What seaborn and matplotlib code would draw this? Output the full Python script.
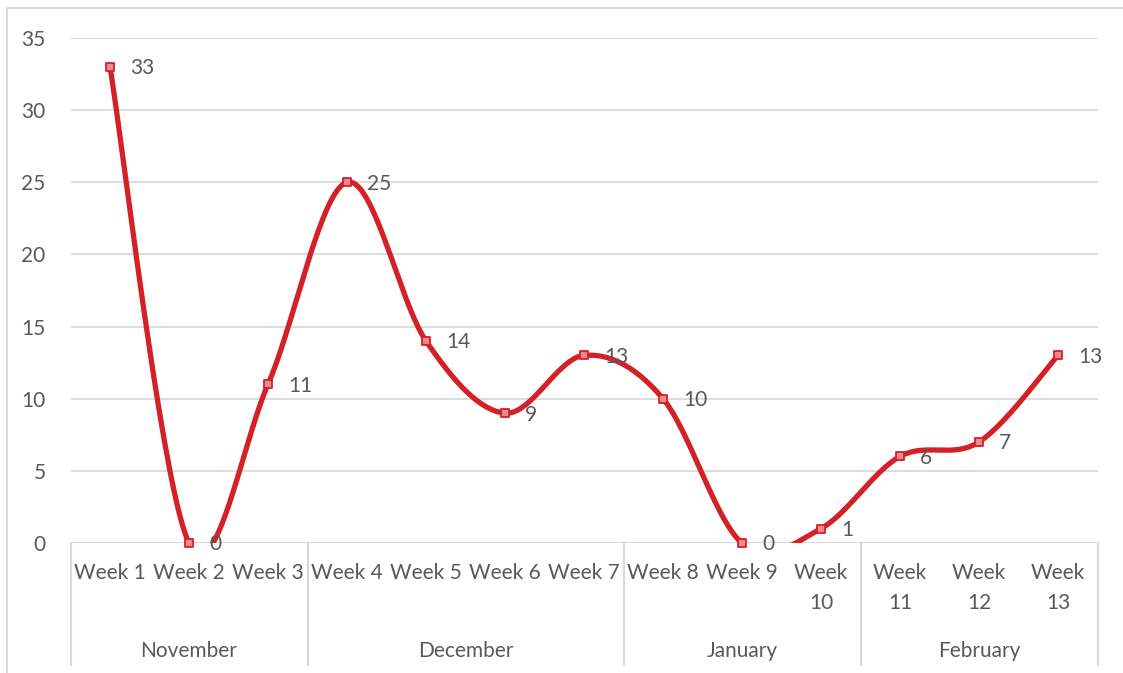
import matplotlib
matplotlib.use("Agg")
import matplotlib.pyplot as plt
import matplotlib.transforms as mtransforms
import seaborn as sns
import numpy as np
import pandas as pd

# === Data ===
weeks = ["Week 1", "Week 2", "Week 3", "Week 4", "Week 5", "Week 6", "Week 7",
         "Week 8", "Week 9", "Week\n10", "Week\n11", "Week\n12", "Week\n13"]
counts = [33, 0, 11, 25, 14, 9, 13, 10, 0, 1, 6, 7, 13]
months = ["November", "December", "January", "February"]
month_sizes = [3, 4, 3, 3]

# === Style ===
W, H = 1123, 673
RED = "#D42027"
TXT = "#595959"
GRID = "#D9D9D9"
FS = 15

sns.set_theme(style="white")
plt.rcParams["font.family"] = ["Lato", "DejaVu Sans"]

fig = plt.figure(figsize=(W / 100, H / 100), dpi=100)
left, right, top, bottom = 70.5, 1097.5, 38, 543
ax = fig.add_axes([left / W, 1 - bottom / H, (right - left) / W, (bottom - top) / H])


def fy(p):
    return 1 - p / H


# === Excel-like smoothed line (Catmull-Rom -> Bezier) ===
x = np.arange(len(counts), dtype=float)
y = np.array(counts, dtype=float)
pts = np.column_stack([x, y])
ext = np.vstack([pts[0], pts, pts[-1]])
t = np.linspace(0, 1, 40)
curve = []
for i in range(len(pts) - 1):
    p0, p1, p2, p3 = ext[i], ext[i + 1], ext[i + 2], ext[i + 3]
    c1 = p1 + (p2 - p0) / 6
    c2 = p2 - (p3 - p1) / 6
    seg = ((1 - t) ** 3)[:, None] * p1 + (3 * (1 - t) ** 2 * t)[:, None] * c1 \
        + (3 * (1 - t) * t ** 2)[:, None] * c2 + (t ** 3)[:, None] * p2
    curve.append(seg if i == 0 else seg[1:])
curve = np.vstack(curve)
smooth = pd.DataFrame({"x": curve[:, 0], "y": curve[:, 1]})

# gridlines
for v in range(5, 36, 5):
    ax.axhline(v, color=GRID, lw=1.3, zorder=0)
ax.axhline(0, color=GRID, lw=1.5, zorder=0)

sns.lineplot(data=smooth, x="x", y="y", sort=False, color=RED, lw=3.8,
             ax=ax, zorder=3)
pts_df = pd.DataFrame({"x": x, "y": y})
sns.scatterplot(data=pts_df, x="x", y="y", marker="s", s=36, color="#EE8A8E",
                edgecolor=RED, linewidth=1.3, ax=ax, zorder=4, clip_on=False)

for xi, yi in zip(x, counts):
    ax.annotate(str(yi), (xi, yi), xytext=(14.5, -1), textcoords="offset points",
                ha="left", va="center", fontsize=FS, color=TXT, zorder=5,
                annotation_clip=False)

ax.set_xlim(-0.5, len(counts) - 0.5)
ax.set_ylim(0, 35)
ax.set_yticks(range(0, 36, 5))
ax.set_yticklabels([str(v) for v in range(0, 36, 5)], fontsize=FS, color=TXT)
ax.tick_params(axis="y", length=0, pad=18)
ax.set_xticks([])
ax.set_xlabel("")
ax.set_ylabel("")
for s in ax.spines.values():
    s.set_visible(False)

# === Multi-level category axis ===
tr = mtransforms.blended_transform_factory(ax.transData, fig.transFigure)
for xi, lab in zip(x, weeks):
    ax.text(xi, fy(563), lab, transform=tr, ha="center", va="top",
            fontsize=FS, color=TXT, linespacing=1.65)
bounds = np.concatenate([[0], np.cumsum(month_sizes)]) - 0.5
for b in bounds:
    ax.plot([b, b], [fy(543), fy(665)], transform=tr, color=GRID, lw=1.5,
            clip_on=False)
for m, a, b in zip(months, bounds[:-1], bounds[1:]):
    ax.text((a + b) / 2, fy(651), m, transform=tr, ha="center", va="center",
            fontsize=FS, color=TXT)

# chart border (cropped at right and bottom)
fig.add_artist(plt.Line2D([7 / W, 1], [fy(8), fy(8)], color=GRID, lw=1.3))
fig.add_artist(plt.Line2D([7 / W, 7 / W], [fy(8), 0], color=GRID, lw=1.3))

fig.savefig("out.png", dpi=100)
plt.close(fig)
